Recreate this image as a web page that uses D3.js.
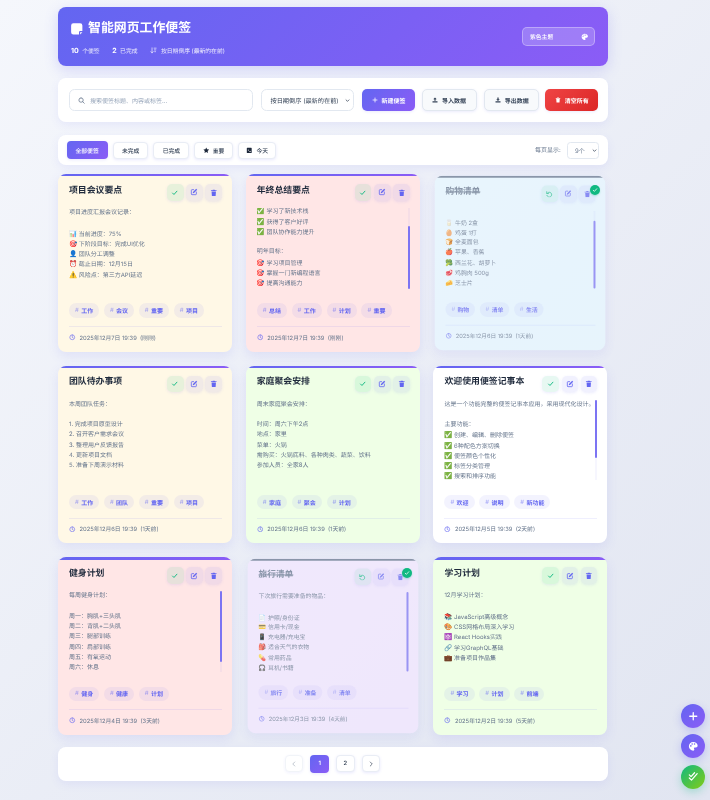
<!DOCTYPE html>
<html lang="zh-CN">
<head>
<meta charset="UTF-8">
<title>智能网页工作便签</title>
<script src="https://d3js.org/d3.v7.min.js"></script>
<style>
  :root {
    --accent: #6366f1;
    --accent2: #8b5cf6;
    --grad: linear-gradient(135deg, #6366f1, #8b5cf6);
    --text: #1e293b;
    --muted: #64748b;
  }
  * { box-sizing: border-box; margin: 0; padding: 0; }
  html, body { width: 710px; height: 800px; overflow: hidden; }
  body {
    background: linear-gradient(135deg, #f5f7fc 0%, #e1e5f1 100%);
    font-family: Inter, "Noto Sans CJK SC", "Noto Color Emoji", sans-serif;
    color: var(--text);
    text-rendering: geometricPrecision;
  }
  #page { position: relative; width: 710px; height: 800px; filter: blur(.32px); }
  .panel {
    position: absolute; left: 58px; width: 549.5px; background: #fff; border-radius: 8px;
    box-shadow: 0 3px 10px rgba(99,102,241,.09);
  }
  svg.icon { display: block; flex: none; }

  #header {
    top: 7px; height: 59px; background: var(--grad); color: #fff;
    box-shadow: 0 4px 14px rgba(99,102,241,.22);
  }
  #header .logo { position: absolute; left: 12px; top: 15px; }
  #header h1 { position: absolute; left: 30px; top: 11.5px; font-size: 12.9px; font-weight: 700; line-height: 20px; }
  #stats { position: absolute; left: 13px; top: 39px; height: 8px; display: flex; align-items: center; font-size: 5.8px; color: rgba(255,255,255,.88); white-space: nowrap; }
  #stats b { font-size: 7px; font-weight: 700; color: #fff; margin-right: 3.5px; }
  #stats span { display: flex; align-items: center; }
  #theme {
    position: absolute; left: 464px; top: 20px; width: 73px; height: 19px; border-radius: 5px;
    background: rgba(255,255,255,.2); border: .6px solid rgba(255,255,255,.32);
    font-size: 5.8px; font-weight: 500; display: flex; align-items: center; justify-content: space-between; padding: 0 5.5px 0 7px;
  }

  #toolbar { top: 78px; height: 44px; display: flex; align-items: center; padding-left: 11px; }
  .field {
    height: 22px; background: #fff; border: .7px solid #e2e8f0; border-radius: 5.5px;
    display: flex; align-items: center; font-size: 6.2px; white-space: nowrap;
  }
  #search { width: 184px; padding-left: 8px; color: #94a3b8; font-size: 6px; margin-right: 8px; gap: 5px; }
  #sort { width: 92.5px; padding: 0 3px 0 8.5px; justify-content: space-between; color: #334155; margin-right: 8.5px; }
  #actions { display: flex; align-items: center; }
  .btn {
    height: 21.5px; padding: 0 9.5px; border-radius: 5px; display: flex; align-items: center; gap: 4px;
    font-size: 6px; font-weight: 600; white-space: nowrap;
    background: #f8fafc; color: #334155; border: .6px solid #e2e8f0; box-shadow: 0 1px 3px rgba(99,102,241,.12);
  }
  .btn.primary { background: var(--grad); color: #fff; border: none; }
  .btn.danger { background: linear-gradient(135deg, #ef4444, #dc2626); color: #fff; border: none; }

  #filterbar { top: 135px; height: 30px; display: flex; align-items: center; padding-left: 8.5px; }
  #tabs { display: flex; align-items: center; gap: 5px; }
  .tab {
    height: 17px; padding: 0 8.2px; border-radius: 4px; background: #fff; border: .5px solid #e9edf5;
    box-shadow: 0 1px 3px rgba(99,102,241,.14); display: flex; align-items: center; gap: 3.5px;
    font-size: 5.8px; font-weight: 500; color: #334155; white-space: nowrap;
  }
  .tab.iconic { padding: 0 7.5px; }
  .tab.active { height: 18px; padding: 0 9px; background: var(--grad); color: #fff; border: none; }
  #perpage { position: absolute; left: 477px; top: 1px; height: 30px; line-height: 30px; font-size: 6px; color: #64748b; white-space: nowrap; }
  #persel {
    position: absolute; left: 509px; top: 7px; width: 32px; height: 16.5px; border-radius: 3.5px; padding: 0 1.5px 0 7px;
    justify-content: space-between; color: #64748b; font-size: 6px;
  }

  .note {
    position: absolute; border-radius: 8px; overflow: hidden;
    box-shadow: 0 4px 12px rgba(99,102,241,.12);
  }
  .note .strip { position: absolute; left: 0; right: 0; top: 0; height: 2.3px; background: var(--grad); }
  .note.done { transform: scale(.98); opacity: .72; }
  .note.done .strip { background: #64748b; }
  .note h3 { position: absolute; left: 11px; top: 9.5px; font-size: 8.9px; font-weight: 700; line-height: 13px; white-space: nowrap; }
  .note.done h3 { text-decoration: line-through; color: #64748b; }
  .ctrls { position: absolute; right: 10px; top: 10px; display: flex; gap: 2.6px; }
  .ctrl {
    width: 16.7px; height: 16.7px; border-radius: 5px; background: rgba(99,102,241,.09);
    display: flex; align-items: center; justify-content: center; box-shadow: 0 1px 3px rgba(99,102,241,.12);
  }
  .ctrl.ok { background: rgba(16,185,129,.1); }
  .body {
    position: absolute; left: 11px; right: 10px; top: 34px; height: 81px; overflow: hidden;
    font-size: 6px; color: var(--muted); line-height: 10.27px; white-space: nowrap;
  }
  .body .line { height: 10.27px; }
  .emoji { display: inline-block; width: 9.7px; font-size: 6.6px; }
  .track { position: absolute; width: 2px; right: 10px; background: rgba(99,102,241,.06); }
  .thumb { position: absolute; width: 2px; left: 0; background: #7c74f3; border-radius: 1px; }
  .tags { position: absolute; left: 11px; top: 129.3px; display: flex; gap: 4.7px; }
  .tag {
    height: 14.4px; padding: 0 6px; border-radius: 7.2px; background: rgba(99,102,241,.08);
    display: flex; align-items: center; gap: 2.4px; font-size: 6px; font-weight: 600; color: var(--accent); white-space: nowrap;
  }
  .tag i { font-style: normal; font-weight: 400; opacity: .55; }
  .rule { position: absolute; left: 11px; right: 10px; top: 152px; height: .5px; background: rgba(99,102,241,.1); }
  .date { position: absolute; left: 11px; top: 159.3px; height: 8px; display: flex; align-items: center; gap: 4px; font-size: 5.8px; color: var(--muted); white-space: nowrap; }
  .badge {
    position: absolute; width: 10px; height: 10px; border-radius: 50%; background: #10b981;
    display: flex; align-items: center; justify-content: center; box-shadow: 0 1px 2px rgba(16,185,129,.3);
  }

  #pager { top: 747px; height: 33.5px; display: flex; align-items: center; padding-left: 226.7px; gap: 7px; }
  .page {
    width: 18.7px; height: 17px; border-radius: 4px; background: #fff; border: .5px solid #e9edf5;
    box-shadow: 0 1px 3px rgba(99,102,241,.14); display: flex; align-items: center; justify-content: center;
    font-size: 5.8px; font-weight: 600; color: #334155;
  }
  .page.active { height: 18px; background: var(--grad); color: #fff; border: none; }
  .fab {
    position: absolute; left: 681.3px; width: 24px; height: 24px; border-radius: 50%; background: var(--grad);
    display: flex; align-items: center; justify-content: center; box-shadow: 0 3px 8px rgba(99,102,241,.3);
  }
  .fab.green { background: linear-gradient(135deg, #10b981, #84cc16); box-shadow: 0 3px 8px rgba(16,185,129,.3); }
</style>
</head>
<body>
<div id="page"></div>
<script>
  // ## Data
  const appTitle = "智能网页工作便签";
  const statValues = ["10", "2"];
  const statLabels = ["个便签", "已完成"];
  const sortLabel = "按日期倒序 (最新的在前)";
  const themeLabel = "紫色主题";
  const searchHint = "搜索便签标题、内容或标签...";
  const actionLabels = ["新建便签", "导入数据", "导出数据", "清空所有"];
  const actionIcons = ["plus", "upload", "download", "trash"];
  const tabLabels = ["全部便签", "未完成", "已完成", "重要", "今天"];
  const tabIcons = [null, null, null, "star", "calendar"];
  const pageLabels = ["1", "2"];

  const noteTitles = ["项目会议要点", "年终总结要点", "购物清单", "团队待办事项", "家庭聚会安排",
    "欢迎使用便签记事本", "健身计划", "旅行清单", "学习计划"];
  const noteColors = ["yellow", "pink", "blue", "yellow", "green", "white", "pink", "purple", "green"];
  const noteDone = [false, false, true, false, false, false, false, true, false];
  const noteDates = ["2025年12月7日 19:39", "2025年12月7日 19:39", "2025年12月6日 19:39", "2025年12月6日 19:39",
    "2025年12月6日 19:39", "2025年12月5日 19:39", "2025年12月4日 19:39", "2025年12月3日 19:39", "2025年12月2日 19:39"];
  const noteAges = ["(刚刚)", "(刚刚)", "(1天前)", "(1天前)", "(1天前)", "(2天前)", "(3天前)", "(4天前)", "(5天前)"];
  const noteTags = [
    ["工作", "会议", "重要", "项目"],
    ["总结", "工作", "计划", "重要"],
    ["购物", "清单", "生活"],
    ["工作", "团队", "重要", "项目"],
    ["家庭", "聚会", "计划"],
    ["欢迎", "说明", "新功能"],
    ["健身", "健康", "计划"],
    ["旅行", "准备", "清单"],
    ["学习", "计划", "前端"]
  ];
  const noteLines = [
    ["项目进度汇报会议记录：", "", "📊 当前进度：75%", "🎯 下阶段目标：完成UI优化", "👤 团队分工调整", "⏰ 截止日期：12月15日", "⚠️ 风险点：第三方API延迟"],
    ["✅ 学习了新技术栈", "✅ 获得了客户好评", "✅ 团队协作能力提升", "", "明年目标：", "🎯 学习项目管理", "🎯 掌握一门新编程语言", "🎯 提高沟通能力"],
    ["", "🥛 牛奶 2盒", "🥚 鸡蛋 1打", "🍞 全麦面包", "🍎 苹果、香蕉", "🥦 西兰花、胡萝卜", "🥩 鸡胸肉 500g", "🧀 芝士片"],
    ["本周团队任务：", "", "1. 完成项目原型设计", "2. 召开客户需求会议", "3. 整理用户反馈报告", "4. 更新项目文档", "5. 准备下周演示材料"],
    ["周末家庭聚会安排：", "", "时间：周六下午2点", "地点：家里", "菜单：火锅", "需购买：火锅底料、各种肉类、蔬菜、饮料", "参加人员：全家8人"],
    ["这是一个功能完整的便签记事本应用，采用现代化设计。", "", "主要功能：", "✅ 创建、编辑、删除便签", "✅ 6种配色方案切换", "✅ 便签颜色个性化", "✅ 标签分类管理", "✅ 搜索和排序功能"],
    ["每周健身计划：", "", "周一：胸肌+三头肌", "周二：背肌+二头肌", "周三：腿部训练", "周四：肩部训练", "周五：有氧运动", "周六：休息"],
    ["下次旅行需要准备的物品：", "", "📄 护照/身份证", "💳 信用卡/现金", "📱 充电器/充电宝", "🎒 适合天气的衣物", "💊 常用药品", "🎧 耳机/书籍"],
    ["12月学习计划：", "", "📚 JavaScript高级概念", "🎨 CSS网格布局深入学习", "⚛️ React Hooks实践", "🔗 学习GraphQL基础", "💼 准备项目作品集"]
  ];

  const notes = noteTitles.map((title, i) => ({
    title, color: noteColors[i], done: noteDone[i], date: noteDates[i], age: noteAges[i],
    tags: noteTags[i], lines: noteLines[i], col: i % 3, row: Math.floor(i / 3)
  }));

  // ## Scales
  const colorScale = d3.scaleOrdinal()
    .domain(["yellow", "pink", "blue", "green", "white", "purple"])
    .range(["#fff8e6", "#ffe6e6", "#e6f7ff", "#efffe6", "#ffffff", "#f3e6ff"]);
  const xScale = d3.scaleBand().domain([0, 1, 2]).range([58, 607.5]).paddingInner(0.0725);
  const yScale = d3.scaleBand().domain([0, 1, 2]).range([174, 735]).paddingInner(0.0725);

  // ## Icons
  const iconPaths = {
    note: { fill: "M6 2h12a4 4 0 0 1 4 4v10h-4a2 2 0 0 0-2 2v4H6a4 4 0 0 1-4-4V6a4 4 0 0 1 4-4zM18 18h4l-4 4z" },
    check: { stroke: "M5 13l4.5 4.5L19 7", w: 3 },
    edit: { stroke: "M11 5H6a2 2 0 0 0-2 2v11a2 2 0 0 0 2 2h11a2 2 0 0 0 2-2v-6", w: 2.4, fill: "M18.5 2.5l3 3-9.5 9.5-4 1 1-4z" },
    trash: { fill: "M9 2h6l1 2h5v2.5H3V4h5zM5 8h14l-1 14H6z" },
    undo: { stroke: "M4 4v6h6M5 10a8 8 0 1 1-.5 6", w: 2.6 },
    clock: { stroke: "M12 3a9 9 0 1 0 0 18a9 9 0 1 0 0-18M12 7v5.5l3.5 2", w: 2.2 },
    search: { stroke: "M10.5 3a7.5 7.5 0 1 0 0 15a7.5 7.5 0 1 0 0-15M16 16l5.5 5.5", w: 2.6 },
    sort: { stroke: "M7 3v17M3 16l4 4 4-4M14 4h7M15 10h5M16 16h3", w: 2.4 },
    plus: { stroke: "M12 4v16M4 12h16", w: 3 },
    upload: { fill: "M12 2l7 7h-4.5v6h-5V9H5zM2 17h20v5H2z" },
    download: { fill: "M9.5 2h5v7H19l-7 7-7-7h4.5zM2 17h20v5H2z" },
    star: { fill: "M12 1.5l3.2 6.9 7.3 1-5.3 5.2 1.3 7.4L12 18.4l-6.5 3.6 1.3-7.4L1.5 9.4l7.3-1z" },
    calendar: { fill: "M5 3h14a2 2 0 0 1 2 2v15a2 2 0 0 1-2 2H5a2 2 0 0 1-2-2V5a2 2 0 0 1 2-2zM7 10v3h4v-3zM13 15v3h4v-3z" },
    palette: { fill: "M12 2C6 2 2 6.5 2 12s4.5 10 10 10c1.5 0 2.5-1 2.5-2.3 0-1.7-1-2-1-3.2 0-1 .8-1.5 2-1.5h2.5c2.6 0 4-2 4-4.5C22 5.5 17.5 2 12 2zM6.5 13a1.8 1.8 0 1 1 0-3.6a1.8 1.8 0 0 1 0 3.6zM9.5 8.5a1.8 1.8 0 1 1 0-3.6a1.8 1.8 0 0 1 0 3.6zM15 8.5a1.8 1.8 0 1 1 0-3.6a1.8 1.8 0 0 1 0 3.6z" },
    down: { stroke: "M5 9l7 7 7-7", w: 3.6 },
    left: { stroke: "M15 4l-8 8 8 8", w: 2.6 },
    right: { stroke: "M9 4l8 8-8 8", w: 2.6 },
    checks: { stroke: "M3 9l4 4 8-9M3 16l5 5 13-15", w: 2.8 }
  };

  function addIcon(parent, name, size, color) {
    const p = iconPaths[name];
    const svg = parent.append("svg")
      .attr("class", "icon")
      .attr("width", size)
      .attr("height", size)
      .attr("viewBox", "0 0 24 24");
    if (p.stroke) svg.append("path")
      .attr("d", p.stroke)
      .attr("fill", "none")
      .attr("stroke", color)
      .attr("stroke-width", p.w)
      .attr("stroke-linecap", "round")
      .attr("stroke-linejoin", "round");
    if (p.fill) svg.append("path")
      .attr("d", p.fill)
      .attr("fill", color)
      .attr("fill-rule", "evenodd");
    return svg;
  }

  const page = d3.select("#page");

  // ## Header
  const header = page.append("div").attr("id", "header").attr("class", "panel");
  addIcon(header.append("div").attr("class", "logo"), "note", 13.5, "#fff");
  header.append("h1").text(appTitle);
  const stats = header.append("div").attr("id", "stats");
  statValues.forEach((v, i) => {
    const s = stats.append("span").style("margin-right", "12.5px");
    s.append("b").text(v);
    s.append("span").text(statLabels[i]);
  });
  const sortStat = stats.append("span").style("gap", "4px");
  addIcon(sortStat, "sort", 7, "rgba(255,255,255,.9)");
  sortStat.append("span").text(sortLabel);
  const theme = header.append("div").attr("id", "theme");
  theme.append("span").text(themeLabel);
  addIcon(theme, "palette", 7.5, "#fff");

  // ## Toolbar
  const toolbar = page.append("div").attr("id", "toolbar").attr("class", "panel");
  const search = toolbar.append("div").attr("id", "search").attr("class", "field");
  addIcon(search, "search", 7, "#64748b");
  search.append("span").text(searchHint);
  const sort = toolbar.append("div").attr("id", "sort").attr("class", "field");
  sort.append("span").text(sortLabel);
  addIcon(sort, "down", 5, "#334155");
  const actions = toolbar.append("div").attr("id", "actions");
  const actionGaps = [0, 6.5, 7.7, 6];
  actionLabels.forEach((label, i) => {
    const kind = i === 0 ? " primary" : i === 3 ? " danger" : "";
    const b = actions.append("div").attr("class", "btn" + kind).style("margin-left", actionGaps[i] + "px");
    addIcon(b, actionIcons[i], 6, kind ? "#fff" : "#334155");
    b.append("span").text(label);
  });

  // ## Filter bar
  const filterbar = page.append("div").attr("id", "filterbar").attr("class", "panel");
  const tabs = filterbar.append("div").attr("id", "tabs");
  tabLabels.forEach((label, i) => {
    const t = tabs.append("div").attr("class", i === 0 ? "tab active" : tabIcons[i] ? "tab iconic" : "tab");
    if (tabIcons[i]) addIcon(t, tabIcons[i], 6.5, "#1e293b");
    t.append("span").text(label);
  });
  filterbar.append("div").attr("id", "perpage").text("每页显示:");
  const persel = filterbar.append("div").attr("id", "persel").attr("class", "field");
  persel.append("span").text("9个");
  addIcon(persel, "down", 5, "#334155");

  // ## Note cards
  // scrollbars of the cards with long bodies, offsets measured from the card top
  const scrollbars = new Map([
    [1, { top: 34, height: 81, thumbTop: 18, thumbHeight: 63, shift: 1.6 }],
    [2, { top: 36, height: 79, thumbTop: 10, thumbHeight: 69, shift: 1.6 }],
    [5, { top: 34.5, height: 80, thumbTop: 0, thumbHeight: 57.5, shift: 0 }],
    [6, { top: 34, height: 81, thumbTop: 0, thumbHeight: 71, shift: 0 }],
    [7, { top: 34, height: 81, thumbTop: 0, thumbHeight: 81, shift: 0 }]
  ]);

  const emojiStart = /^(\p{Extended_Pictographic}\uFE0F?) (.*)$/u;

  const cards = page.selectAll(".note")
    .data(notes)
    .enter()
    .append("div")
    .attr("class", d => d.done ? "note done" : "note")
    .style("left", d => xScale(d.col) + "px")
    .style("top", d => yScale(d.row) + "px")
    .style("width", xScale.bandwidth() + "px")
    .style("height", yScale.bandwidth() + "px")
    .style("background", d => colorScale(d.color));

  cards.append("div").attr("class", "strip");
  cards.append("h3").text(d => d.title);

  cards.each(function (d, i) {
    const card = d3.select(this);

    const ctrls = card.append("div").attr("class", "ctrls");
    addIcon(ctrls.append("div").attr("class", "ctrl ok"), d.done ? "undo" : "check", 7.5, "#10b981");
    addIcon(ctrls.append("div").attr("class", "ctrl"), "edit", 8, "#6366f1");
    addIcon(ctrls.append("div").attr("class", "ctrl"), "trash", 7.5, "#6366f1");

    const bar = scrollbars.get(i);
    const body = card.append("div").attr("class", "body");
    const inner = body.append("div").style("margin-top", (bar ? -bar.shift : 0) + "px");
    d.lines.forEach(l => {
      const row = inner.append("div").attr("class", "line");
      const m = l.match(emojiStart);
      if (m) {
        row.append("span").attr("class", "emoji").text(m[1]);
        row.append("span").text(m[2]);
      } else {
        row.text(l);
      }
    });

    if (bar) {
      const track = card.append("div").attr("class", "track")
        .style("top", bar.top + "px")
        .style("height", bar.height + "px");
      track.append("div").attr("class", "thumb")
        .style("top", bar.thumbTop + "px")
        .style("height", bar.thumbHeight + "px");
    }

    const tags = card.append("div").attr("class", "tags");
    d.tags.forEach(tag => {
      const t = tags.append("div").attr("class", "tag");
      t.append("i").text("#");
      t.append("span").text(tag);
    });

    card.append("div").attr("class", "rule");

    const date = card.append("div").attr("class", "date");
    addIcon(date, "clock", 6.5, "#6366f1");
    date.append("span").text(d.date + "  " + d.age).style("white-space", "pre");
  });

  // completed badges sit outside the clipped card
  const badges = page.selectAll(".badge")
    .data(notes.filter(d => d.done))
    .enter()
    .append("div")
    .attr("class", "badge")
    .style("left", d => xScale(d.col) + xScale.bandwidth() - 17.5 + "px")
    .style("top", d => yScale(d.row) + 10.5 + "px");
  badges.each(function () { addIcon(d3.select(this), "check", 6, "#fff"); });

  // ## Pagination
  const pager = page.append("div").attr("id", "pager").attr("class", "panel");
  addIcon(pager.append("div").attr("class", "page").style("opacity", ".6"), "left", 6, "#64748b");
  pageLabels.forEach((label, i) => {
    pager.append("div").attr("class", i === 0 ? "page active" : "page").text(label);
  });
  addIcon(pager.append("div").attr("class", "page"), "right", 6, "#334155");

  // ## Floating buttons
  [["plus", 704, ""], ["palette", 734, ""], ["checks", 764.7, " green"]].forEach(([name, top, kind]) => {
    const f = page.append("div").attr("class", "fab" + kind).style("top", top + "px");
    addIcon(f, name, 10.5, "#fff");
  });
</script>
</body>
</html>
